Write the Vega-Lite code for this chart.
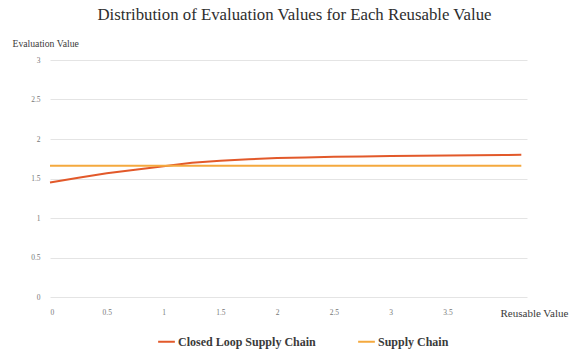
{
  "$schema": "https://vega.github.io/schema/vega-lite/v6.json",
  "autosize": {"type": "none"},
  "width": 477,
  "height": 237,
  "padding": {"left": 50, "top": 60, "right": 50, "bottom": 53},
  "background": "white",
  "title": {
    "text": "Distribution of Evaluation Values for Each Reusable Value",
    "font": "Liberation Serif",
    "fontSize": 16.8,
    "fontWeight": "normal",
    "color": "#2e2e2e",
    "anchor": "middle",
    "dx": 6,
    "offset": 14
  },
  "config": {
    "view": {"stroke": null},
    "font": "Liberation Serif"
  },
  "data": {
    "values": [
      {"reusable": 0, "evaluation": 1.45, "series": "Closed Loop Supply Chain"},
      {"reusable": 0.25, "evaluation": 1.51, "series": "Closed Loop Supply Chain"},
      {"reusable": 0.5, "evaluation": 1.565, "series": "Closed Loop Supply Chain"},
      {"reusable": 0.75, "evaluation": 1.61, "series": "Closed Loop Supply Chain"},
      {"reusable": 1, "evaluation": 1.655, "series": "Closed Loop Supply Chain"},
      {"reusable": 1.25, "evaluation": 1.7, "series": "Closed Loop Supply Chain"},
      {"reusable": 1.5, "evaluation": 1.725, "series": "Closed Loop Supply Chain"},
      {"reusable": 1.75, "evaluation": 1.745, "series": "Closed Loop Supply Chain"},
      {"reusable": 2, "evaluation": 1.758, "series": "Closed Loop Supply Chain"},
      {"reusable": 2.25, "evaluation": 1.767, "series": "Closed Loop Supply Chain"},
      {"reusable": 2.5, "evaluation": 1.775, "series": "Closed Loop Supply Chain"},
      {"reusable": 2.75, "evaluation": 1.78, "series": "Closed Loop Supply Chain"},
      {"reusable": 3, "evaluation": 1.785, "series": "Closed Loop Supply Chain"},
      {"reusable": 3.25, "evaluation": 1.788, "series": "Closed Loop Supply Chain"},
      {"reusable": 3.5, "evaluation": 1.791, "series": "Closed Loop Supply Chain"},
      {"reusable": 3.75, "evaluation": 1.794, "series": "Closed Loop Supply Chain"},
      {"reusable": 4, "evaluation": 1.797, "series": "Closed Loop Supply Chain"},
      {"reusable": 4.15, "evaluation": 1.8, "series": "Closed Loop Supply Chain"},
      {"reusable": 0, "evaluation": 1.66, "series": "Supply Chain"},
      {"reusable": 4.15, "evaluation": 1.66, "series": "Supply Chain"}
    ]
  },
  "mark": {"type": "line", "strokeWidth": 2},
  "encoding": {
    "x": {
      "field": "reusable",
      "type": "quantitative",
      "scale": {"domain": [0, 4.2], "nice": false, "zero": true},
      "axis": {
        "title": "Reusable Value",
        "titleFontSize": 11,
        "titleFontWeight": "normal",
        "titleColor": "#3a3a3a",
        "titleAnchor": "start",
        "titleAlign": "left",
        "titleX": 450,
        "titleY": 16,
        "titleBaseline": "middle",
        "values": [0, 0.5, 1, 1.5, 2, 2.5, 3, 3.5],
        "format": "~g",
        "labelFontSize": 7.5,
        "labelColor": "#777777",
        "labelPadding": 11,
        "domain": false,
        "ticks": false,
        "grid": false
      }
    },
    "y": {
      "field": "evaluation",
      "type": "quantitative",
      "scale": {"domain": [0, 3], "nice": false},
      "axis": {
        "title": "Evaluation Value",
        "titleFontSize": 9.7,
        "titleFontWeight": "normal",
        "titleColor": "#3a3a3a",
        "titleAngle": 0,
        "titleAlign": "left",
        "titleAnchor": "start",
        "titleX": -38,
        "titleY": -17,
        "titleBaseline": "middle",
        "values": [0, 0.5, 1, 1.5, 2, 2.5, 3],
        "format": "~g",
        "labelFontSize": 7.5,
        "labelColor": "#777777",
        "labelPadding": 10,
        "domain": false,
        "ticks": false,
        "grid": true,
        "gridColor": "#e4e4e4",
        "gridWidth": 1
      }
    },
    "color": {
      "field": "series",
      "type": "nominal",
      "scale": {
        "domain": ["Closed Loop Supply Chain", "Supply Chain"],
        "range": ["#E2592A", "#F4A93E"]
      },
      "legend": {
        "title": null,
        "orient": "none",
        "direction": "horizontal",
        "legendX": 107,
        "legendY": 272,
        "symbolType": "stroke",
        "symbolStrokeWidth": 2,
        "symbolSize": 280,
        "labelFontSize": 12,
        "labelFontWeight": "bold",
        "labelColor": "#3a3a3a",
        "labelOffset": 2,
        "columnPadding": 38
      }
    }
  }
}
